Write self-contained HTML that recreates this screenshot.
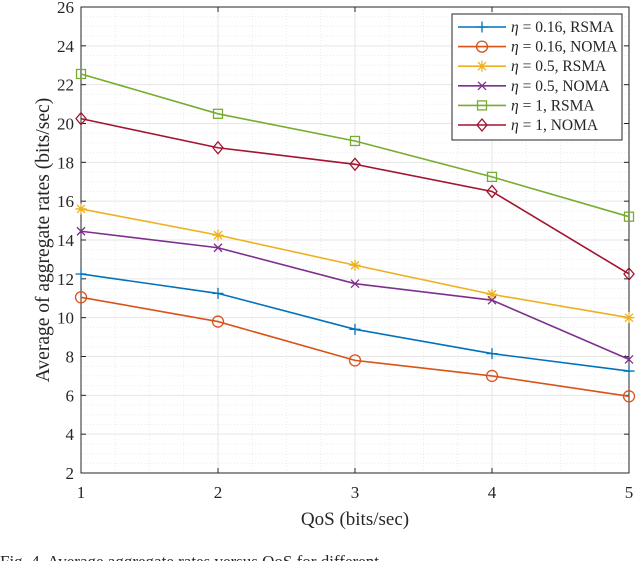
<!DOCTYPE html>
<html><head><meta charset="utf-8"><style>
body{margin:0;background:#fff;}
svg text{font-family:"Liberation Serif",serif;fill:#262626;}
</style></head><body>
<svg id="chart" width="640" height="561" xmlns="http://www.w3.org/2000/svg"></svg>
<script>
const categories=[1,2,3,4,5];
const yTicks=[2,4,6,8,10,12,14,16,18,20,22,24,26];
const seriesNames=["η = 0.16, RSMA","η = 0.16, NOMA","η = 0.5, RSMA","η = 0.5, NOMA","η = 1, RSMA","η = 1, NOMA"];
const rsma016=[12.25,11.25,9.4,8.15,7.25];
const noma016=[11.05,9.8,7.8,7.0,5.95];
const rsma05=[15.6,14.25,12.7,11.2,10.0];
const noma05=[14.45,13.6,11.75,10.9,7.85];
const rsma1=[22.55,20.5,19.1,17.25,15.2];
const noma1=[20.25,18.75,17.9,16.5,12.25];
const colors=["#0072BD","#D95319","#EDB120","#7E2F8E","#77AC30","#A2142F"];
const markers=["plus","circle","star","x","square","diamond"];
const allSeries=[rsma016,noma016,rsma05,noma05,rsma1,noma1];

const svg=document.getElementById('chart');const NS="http://www.w3.org/2000/svg";
const L=81,R=629,T=7,B=473;
const xs=v=>L+(v-1)/4*(R-L);
const ys=v=>B-(v-2)/24*(B-T);
function mk(tag,attrs,parent){const e=document.createElementNS(NS,tag);for(const k in attrs)e.setAttribute(k,attrs[k]);(parent||svg).appendChild(e);return e;}
const grid=mk('g',{});


for(let v=2;v<=26;v+=0.5){const y=ys(v);const major=v%2===0;mk('line',{x1:L,x2:R,y1:y,y2:y,stroke:major?'#e6e6e6':'#ececec','stroke-dasharray':major?'':'1,2','stroke-width':1},grid);}
for(let v=1;v<=5;v+=0.25){const x=xs(v);const major=Number.isInteger(v);mk('line',{x1:x,x2:x,y1:T,y2:B,stroke:major?'#e6e6e6':'#ececec','stroke-dasharray':major?'':'1,2','stroke-width':1},grid);}
const ax=mk('rect',{x:L,y:T,width:R-L,height:B-T,fill:'none',stroke:'#262626','stroke-width':1});


yTicks.forEach(v=>{const y=ys(v);mk('line',{x1:L,x2:L+5,y1:y,y2:y,stroke:'#262626'});mk('line',{x1:R,x2:R-5,y1:y,y2:y,stroke:'#262626'});
const t=mk('text',{x:L-7,y:y+6,'text-anchor':'end','font-size':17});t.textContent=v;

});
categories.forEach(v=>{const x=xs(v);mk('line',{x1:x,x2:x,y1:B,y2:B-5,stroke:'#262626'});mk('line',{x1:x,x2:x,y1:T,y2:T+5,stroke:'#262626'});
const t=mk('text',{x:x,y:B+25,'text-anchor':'middle','font-size':17});t.textContent=v;

});
const xt=mk('text',{x:(L+R)/2,y:B+52,'text-anchor':'middle','font-size':19});xt.textContent='QoS (bits/sec)';


const yt=mk('text',{x:0,y:0,'text-anchor':'middle','font-size':19.5,transform:`translate(49,${(T+B)/2}) rotate(-90)`});yt.textContent='Average of aggregate rates (bits/sec)';


function marker(type,x,y,c,g){const s=5.5;
 if(type==='plus'){mk('path',{d:`M${x-s} ${y}H${x+s}M${x} ${y-s}V${y+s}`,stroke:c,'stroke-width':1.3,fill:'none'},g);}
 else if(type==='circle'){mk('circle',{cx:x,cy:y,r:s,stroke:c,'stroke-width':1.3,fill:'none'},g);}
 else if(type==='x'){mk('path',{d:`M${x-4} ${y-4}L${x+4} ${y+4}M${x-4} ${y+4}L${x+4} ${y-4}`,stroke:c,'stroke-width':1.3,fill:'none'},g);}
 else if(type==='star'){mk('path',{d:`M${x-s} ${y}H${x+s}M${x} ${y-s}V${y+s}M${x-4} ${y-4}L${x+4} ${y+4}M${x-4} ${y+4}L${x+4} ${y-4}`,stroke:c,'stroke-width':1.3,fill:'none'},g);}
 else if(type==='square'){mk('rect',{x:x-4.5,y:y-4.5,width:9,height:9,stroke:c,'stroke-width':1.3,fill:'none'},g);}
 else if(type==='diamond'){mk('path',{d:`M${x} ${y-6}L${x+5} ${y}L${x} ${y+6}L${x-5} ${y}Z`,stroke:c,'stroke-width':1.3,fill:'none'},g);}
}
allSeries.forEach((data,i)=>{const g=mk('g',{});


mk('polyline',{points:data.map((v,j)=>xs(categories[j])+','+ys(v)).join(' '),fill:'none',stroke:colors[i],'stroke-width':1.6},g);
data.forEach((v,j)=>marker(markers[i],xs(categories[j]),ys(v),colors[i],g));});
const lg=mk('g',{});


mk('rect',{x:452,y:14,width:170,height:126,fill:'#fff',stroke:'#262626','stroke-width':1},lg);
seriesNames.forEach((n,i)=>{const y=27+i*19.6;const e=mk('g',{},lg);


mk('line',{x1:458,x2:506,y1:y,y2:y,stroke:colors[i],'stroke-width':1.6},e);marker(markers[i],482,y,colors[i],e);
const t=mk('text',{x:511,y:y+5,'font-size':15.5},e);t.innerHTML='<tspan font-style="italic">η</tspan>'+n.slice(1);});
const cap=mk('text',{x:0,y:567,'font-size':17});cap.textContent='Fig. 4.   Average aggregate rates versus QoS for different';


</script>
</body></html>
